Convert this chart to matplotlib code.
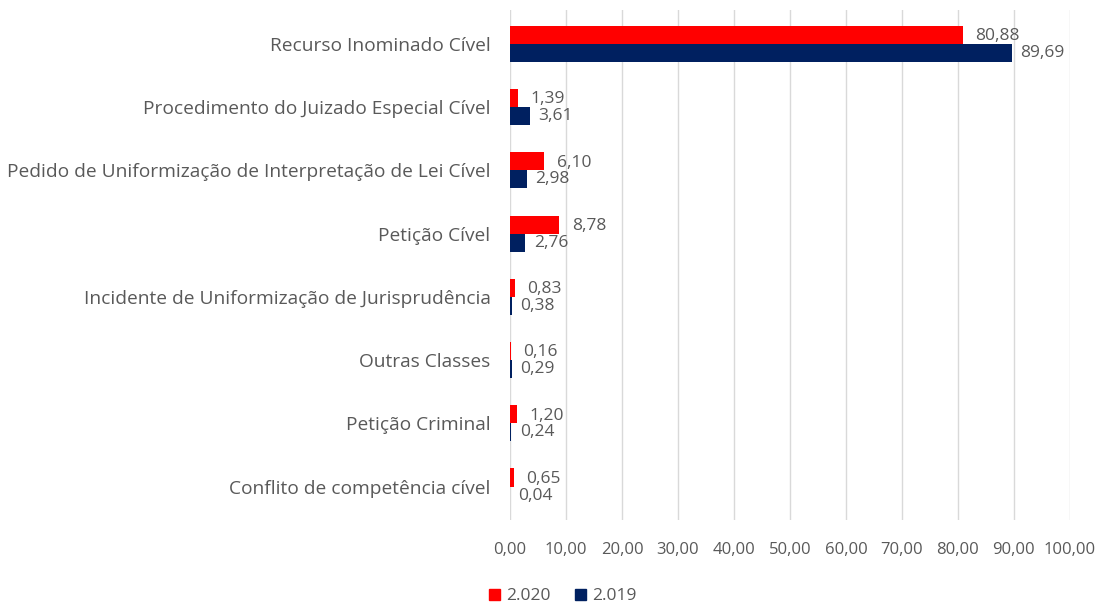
import matplotlib
matplotlib.use("Agg")
import matplotlib.pyplot as plt
import numpy as np
from matplotlib.patches import Patch

categories = [
    "Recurso Inominado Cível",
    "Procedimento do Juizado Especial Cível",
    "Pedido de Uniformização de Interpretação de Lei Cível",
    "Petição Cível",
    "Incidente de Uniformização de Jurisprudência",
    "Outras Classes",
    "Petição Criminal",
    "Conflito de competência cível",
]
values_2020 = [80.88, 1.39, 6.10, 8.78, 0.83, 0.16, 1.20, 0.65]
values_2019 = [89.69, 3.61, 2.98, 2.76, 0.38, 0.29, 0.24, 0.04]
series_labels = ["2.020", "2.019"]
xticks = [0, 10, 20, 30, 40, 50, 60, 70, 80, 90, 100]

RED = "#ff0000"
NAVY = "#002060"
TXT = "#595959"

plt.rcParams['font.family'] = ['Open Sans', 'DejaVu Sans']

fig = plt.figure(figsize=(11.04, 6.04), dpi=100)
ax = fig.add_axes([0.462, 0.139, 0.507, 0.844])

y = np.arange(len(categories))
h = 0.285
ax.barh(y - h / 2, values_2020, height=h, color=RED, zorder=3)
ax.barh(y + h / 2, values_2019, height=h, color=NAVY, zorder=3)

def fmt(v):
    return f"{v:.2f}".replace(".", ",")

for yi, v in zip(y, values_2020):
    ax.annotate(fmt(v), (v, yi - h / 2), xytext=(9, -1), textcoords="offset points",
                va="center", ha="left", fontsize=12.5, color=TXT)
for yi, v in zip(y, values_2019):
    ax.annotate(fmt(v), (v, yi + h / 2), xytext=(6, 0), textcoords="offset points",
                va="center", ha="left", fontsize=12.5, color=TXT)

ax.set_xlim(0, 100)
ax.set_ylim(len(categories) - 0.47, -0.53)
ax.set_xticks(xticks)
ax.set_xticklabels([fmt(t) for t in xticks], fontsize=12, color=TXT)
ax.set_yticks(y)
ax.set_yticklabels(categories, fontsize=13.8, color=TXT)
ax.tick_params(axis="both", length=0)
ax.tick_params(axis="x", pad=16)
ax.tick_params(axis="y", pad=14)
ax.grid(axis="x", color="#d9d9d9", linewidth=1, zorder=0)
for s in ax.spines.values():
    s.set_visible(False)

handles = [Patch(color=RED), Patch(color=NAVY)]
fig.legend(handles, series_labels, loc="center", bbox_to_anchor=(0.51, 0.013),
           ncol=2, frameon=False, fontsize=12.5, handlelength=0.6, handleheight=0.6,
           handletextpad=0.4, columnspacing=1.4, labelcolor=TXT)

fig.savefig("out.png", dpi=100, facecolor="white")
